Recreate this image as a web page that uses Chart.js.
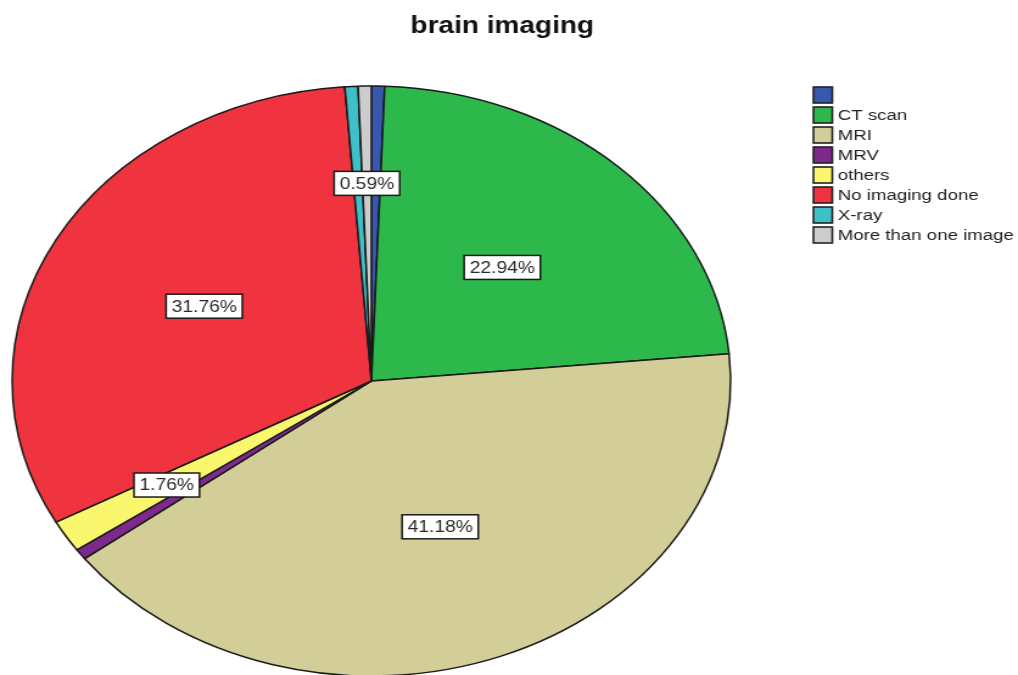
<!DOCTYPE html>
<html>
<head>
<meta charset="utf-8">
<script src="https://cdn.jsdelivr.net/npm/chart.js@4"></script>
<style>
  html, body { margin: 0; padding: 0; background: #fff; }
  #wrap { width: 1018px; height: 675px; overflow: hidden; position: relative; }
  #inner { width: 836px; height: 720px; transform: scaleX(1.2177); transform-origin: 0 0; }
  canvas { display: block; }
</style>
</head>
<body>
<div id="wrap"><div id="inner"><canvas id="c" width="836" height="720"></canvas></div></div>
<script>
const chartTitle = 'brain imaging';
const categories = ['', 'CT scan', 'MRI', 'MRV', 'others', 'No imaging done', 'X-ray', 'More than one image'];
const percentValues = [0.59, 22.94, 41.18, 0.59, 1.76, 31.76, 0.59, 0.59];
const showValueLabel = [false, true, true, false, true, true, false, true];
const sliceColors = ['#3858B0', '#2DB84B', '#D3CE97', '#7E2A8C', '#FAF76E', '#EF333F', '#3EC0C8', '#CCCCCC'];

const FONT = '"Liberation Sans", Arial, Helvetica, sans-serif';

const labelPlugin = {
  id: 'valueLabels',
  afterDatasetsDraw(chart) {
    const ctx = chart.ctx;
    const meta = chart.getDatasetMeta(0);
    ctx.save();
    ctx.font = '15.8px ' + FONT;
    ctx.textAlign = 'center';
    ctx.textBaseline = 'middle';
    meta.data.forEach((arc, i) => {
      if (!showValueLabel[i]) return;
      const p = arc.getProps(['x', 'y', 'startAngle', 'endAngle', 'outerRadius'], true);
      const mid = (p.startAngle + p.endAngle) / 2;
      const f = percentValues[i] < 5 ? 0.67 : 0.53;
      const cx = p.x + Math.cos(mid) * p.outerRadius * f;
      const cy = p.y + Math.sin(mid) * p.outerRadius * f;
      const txt = percentValues[i].toFixed(2) + '%';
      const w = ctx.measureText(txt).width + 9;
      const h = 24;
      ctx.fillStyle = '#ffffff';
      ctx.fillRect(cx - w / 2, cy - h / 2, w, h);
      ctx.strokeStyle = '#1a1a1a';
      ctx.lineWidth = 1.5;
      ctx.strokeRect(cx - w / 2, cy - h / 2, w, h);
      ctx.fillStyle = '#2a2a2a';
      ctx.fillText(txt, cx, cy + 1);
    });
    ctx.restore();
  }
};

const decorPlugin = {
  id: 'decor',
  afterDraw(chart) {
    const ctx = chart.ctx;
    ctx.save();
    // title
    ctx.font = 'bold 23px ' + FONT;
    ctx.textAlign = 'center';
    ctx.textBaseline = 'middle';
    ctx.fillStyle = '#111111';
    ctx.fillText(chartTitle, 412.5, 27);
    // legend
    ctx.font = '15.3px ' + FONT;
    ctx.textAlign = 'left';
    categories.forEach((name, i) => {
      const y = 87 + i * 20;
      ctx.fillStyle = sliceColors[i];
      ctx.fillRect(668, y, 15.5, 16);
      ctx.strokeStyle = '#222222';
      ctx.lineWidth = 1.6;
      ctx.strokeRect(668, y, 15.5, 16);
      ctx.fillStyle = '#222222';
      ctx.fillText(name, 688, y + 8.5);
    });
    ctx.restore();
  }
};

new Chart(document.getElementById('c'), {
  type: 'pie',
  data: {
    labels: categories,
    datasets: [{
      data: percentValues,
      backgroundColor: sliceColors,
      borderColor: '#1a1a1a',
      borderWidth: 1.5
    }]
  },
  options: {
    responsive: false,
    devicePixelRatio: 1,
    animation: false,
    radius: 295,
    layout: { padding: { left: 0, right: 226, top: 42, bottom: 0 } },
    plugins: {
      legend: { display: false },
      title: { display: false },
      tooltip: { enabled: false }
    }
  },
  plugins: [labelPlugin, decorPlugin]
});
</script>
</body>
</html>
